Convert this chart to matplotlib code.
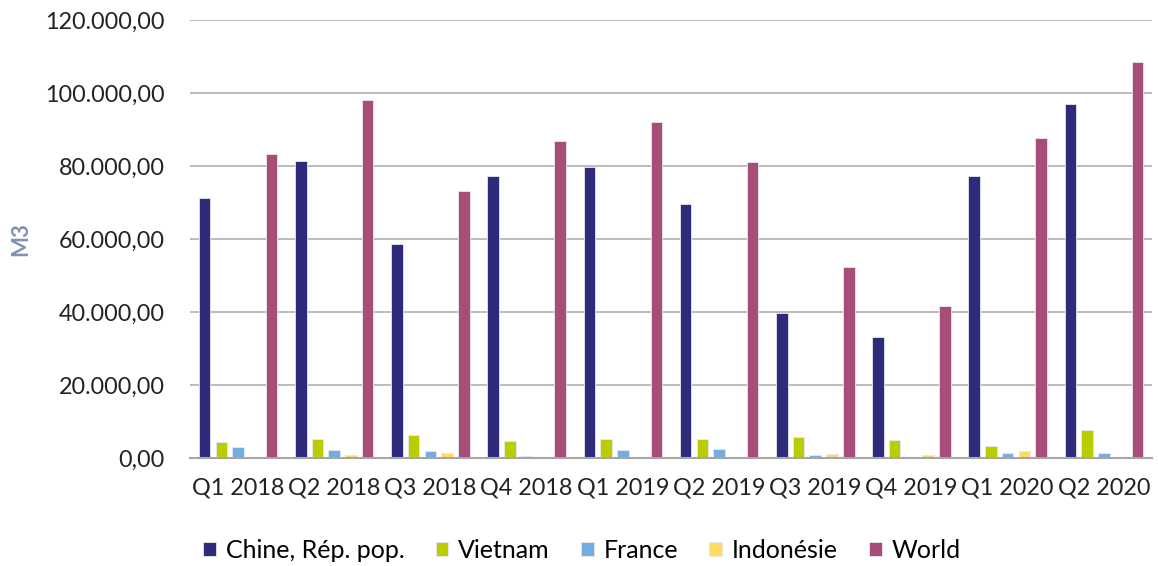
import numpy as np
import matplotlib
matplotlib.use("Agg")
import matplotlib.pyplot as plt
from matplotlib.ticker import FuncFormatter

# Data (M3)
quarters = ["Q1 2018", "Q2 2018", "Q3 2018", "Q4 2018", "Q1 2019",
            "Q2 2019", "Q3 2019", "Q4 2019", "Q1 2020", "Q2 2020"]
chine = [71200, 81500, 58500, 77200, 79700, 69500, 39600, 33200, 77200, 97000]
vietnam = [4300, 5300, 6200, 4700, 5300, 5300, 5700, 5000, 3200, 7800]
france = [2900, 2200, 1900, 500, 2200, 2600, 900, 400, 1500, 1500]
indonesie = [0, 900, 1500, 0, 0, 0, 1100, 800, 1900, 400]
world = [83200, 98000, 73100, 86800, 92000, 81100, 52200, 41700, 87800, 108600]

series_names = ["Chine, Rép. pop.", "Vietnam", "France", "Indonésie", "World"]
series_values = [chine, vietnam, france, indonesie, world]
colors = ["#2E2C7A", "#BACD00", "#74AEE0", "#FFDB63", "#A64D79"]

plt.rcParams["font.family"] = ["Lato", "DejaVu Sans"]

fig = plt.figure(figsize=(11.58, 5.66), dpi=100)
ax = fig.add_axes([0.164, 0.1908, 0.8308, 0.7739])

x = np.arange(len(quarters))
pitch = 0.174
width = 0.12
for i, (name, vals, c) in enumerate(zip(series_names, series_values, colors)):
    ax.bar(x + (i - 2) * pitch, vals, width, color=c, label=name,
           edgecolor="#e8e8f0", linewidth=0.6)

ax.set_xlim(-0.5, len(quarters) - 0.5)
ax.set_ylim(0, 120000)
ax.set_yticks(np.arange(0, 120001, 20000))
ax.yaxis.set_major_formatter(FuncFormatter(
    lambda v, p: f"{v:,.2f}".replace(",", " ").replace(".", ",").replace(" ", ".")))
ax.set_xticks(x)
ax.set_xticklabels(quarters)
ax.tick_params(axis="both", length=0, labelsize=16.8, colors="#222222")
ax.tick_params(axis="y", pad=18)
ax.tick_params(axis="x", pad=14)

ax.grid(axis="y", color="#b0b0b0", linewidth=1.2)
ax.set_axisbelow(True)
for s in ["top", "right", "left"]:
    ax.spines[s].set_visible(False)
ax.spines["bottom"].set_color("#a6a6a6")
ax.spines["bottom"].set_linewidth(1.5)

ax.set_ylabel("M3", fontsize=16, fontweight="bold", color="#7F93AE", labelpad=10)

ax.legend(loc="upper center", bbox_to_anchor=(0.4075, -0.133), ncol=5,
          frameon=False, fontsize=18, handlelength=0.5, handleheight=0.5,
          handletextpad=0.4, columnspacing=1.25)

fig.savefig("out.png", dpi=100)
